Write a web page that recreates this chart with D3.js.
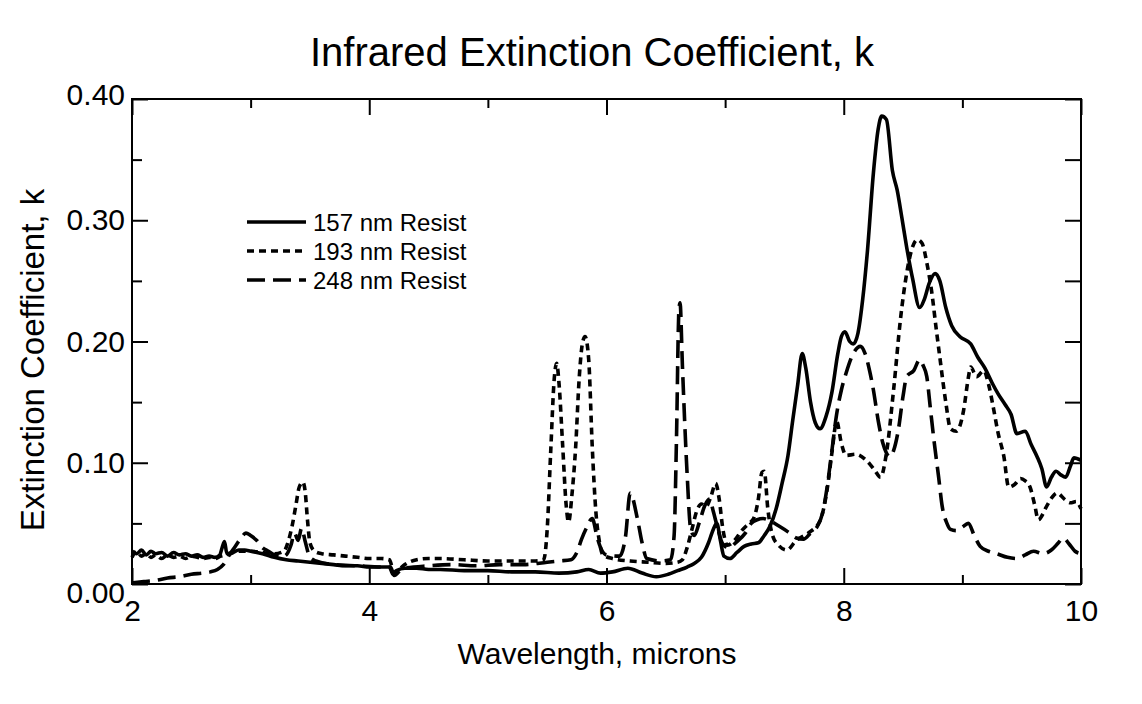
<!DOCTYPE html>
<html>
<head>
<meta charset="utf-8">
<script src="https://cdn.jsdelivr.net/npm/d3@7"></script>
<style>
  body { margin: 0; background: #fff; }
  svg { display: block; font-family: "Liberation Sans", Arial, sans-serif; }
  .tick line { stroke: #000; stroke-width: 2; }
  .tick text { fill: #000; }
</style>
</head>
<body>
<div id="chart"></div>
<script>
// wavelength (microns) and k
const wl157 = [
  2.00,2.04,2.08,2.12,2.16,2.20,2.25,2.30,2.35,2.40,
  2.45,2.50,2.55,2.60,2.65,2.70,2.74,2.76,2.78,2.80,
  2.85,2.90,2.95,3.00,3.10,3.20,3.30,3.40,3.50,3.60,
  3.70,3.80,3.90,4.00,4.10,4.17,4.20,4.23,4.30,4.40,
  4.50,4.60,4.80,5.00,5.20,5.40,5.60,5.75,5.85,5.95,
  6.05,6.18,6.30,6.42,6.52,6.60,6.68,6.74,6.80,6.86,
  6.90,6.93,6.96,6.99,7.04,7.10,7.16,7.22,7.28,7.33,
  7.38,7.43,7.48,7.53,7.57,7.61,7.65,7.68,7.72,7.76,
  7.80,7.85,7.90,7.95,7.98,8.01,8.05,8.08,8.12,8.16,
  8.20,8.25,8.29,8.32,8.36,8.41,8.45,8.49,8.53,8.58,
  8.64,8.68,8.72,8.77,8.81,8.86,8.91,8.98,9.07,9.13,
  9.19,9.25,9.30,9.36,9.41,9.46,9.53,9.58,9.63,9.67,
  9.71,9.75,9.79,9.83,9.87,9.91,9.94,10.00
];
const k157 = [
  0.027,0.025,0.028,0.024,0.027,0.025,0.026,0.023,0.026,0.024,
  0.025,0.023,0.024,0.022,0.023,0.022,0.024,0.030,0.035,0.025,
  0.026,0.028,0.028,0.027,0.025,0.022,0.020,0.019,0.018,0.017,
  0.016,0.015,0.015,0.014,0.014,0.014,0.008,0.011,0.013,0.013,
  0.012,0.012,0.011,0.011,0.010,0.010,0.009,0.010,0.012,0.009,
  0.010,0.013,0.009,0.006,0.008,0.011,0.014,0.017,0.022,0.034,
  0.045,0.050,0.036,0.023,0.021,0.026,0.031,0.033,0.034,0.040,
  0.048,0.062,0.083,0.106,0.135,0.163,0.190,0.178,0.150,0.133,
  0.128,0.138,0.158,0.190,0.204,0.208,0.200,0.198,0.207,0.235,
  0.275,0.339,0.375,0.386,0.383,0.341,0.325,0.302,0.278,0.252,
  0.228,0.235,0.248,0.256,0.250,0.228,0.213,0.204,0.198,0.187,
  0.178,0.166,0.157,0.148,0.140,0.124,0.126,0.115,0.105,0.095,
  0.080,0.088,0.093,0.090,0.088,0.097,0.104,0.102
];

const wl193 = [
  2.00,2.04,2.08,2.12,2.16,2.20,2.25,2.30,2.35,2.40,
  2.45,2.50,2.55,2.60,2.65,2.70,2.75,2.80,2.90,3.00,
  3.10,3.20,3.28,3.32,3.35,3.38,3.41,3.44,3.46,3.48,
  3.50,3.54,3.60,3.70,3.80,3.90,4.00,4.10,4.17,4.21,
  4.25,4.30,4.40,4.50,4.60,4.80,5.00,5.20,5.40,5.47,
  5.50,5.53,5.56,5.58,5.60,5.63,5.66,5.68,5.71,5.74,
  5.77,5.80,5.82,5.85,5.88,5.91,5.94,5.97,6.05,6.20,
  6.35,6.50,6.60,6.64,6.68,6.72,6.76,6.80,6.84,6.88,
  6.92,6.95,6.98,7.02,7.08,7.14,7.20,7.24,7.28,7.31,
  7.33,7.36,7.40,7.45,7.52,7.60,7.70,7.80,7.86,7.90,
  7.94,7.98,8.02,8.10,8.19,8.26,8.31,8.36,8.42,8.48,
  8.53,8.58,8.62,8.66,8.70,8.74,8.78,8.81,8.86,8.90,
  8.95,9.01,9.05,9.07,9.12,9.18,9.22,9.26,9.30,9.35,
  9.39,9.44,9.49,9.53,9.57,9.61,9.64,9.71,9.76,9.80,
  9.86,9.91,9.96,10.00
];
const k193 = [
  0.022,0.027,0.023,0.025,0.022,0.024,0.021,0.024,0.022,0.023,
  0.021,0.023,0.022,0.021,0.022,0.021,0.023,0.024,0.027,0.027,
  0.026,0.025,0.027,0.036,0.048,0.064,0.080,0.084,0.076,0.052,
  0.034,0.027,0.025,0.024,0.023,0.022,0.021,0.021,0.020,0.009,
  0.012,0.016,0.020,0.021,0.021,0.020,0.019,0.019,0.019,0.020,
  0.045,0.110,0.170,0.182,0.165,0.115,0.065,0.051,0.075,0.113,
  0.170,0.200,0.204,0.185,0.113,0.060,0.035,0.024,0.021,0.019,
  0.018,0.017,0.018,0.020,0.030,0.045,0.060,0.066,0.064,0.072,
  0.083,0.070,0.046,0.032,0.036,0.044,0.050,0.054,0.070,0.092,
  0.093,0.062,0.040,0.032,0.028,0.036,0.042,0.052,0.078,0.108,
  0.134,0.116,0.106,0.107,0.102,0.094,0.088,0.108,0.160,0.220,
  0.256,0.278,0.284,0.281,0.265,0.242,0.210,0.187,0.150,0.128,
  0.126,0.143,0.170,0.179,0.171,0.176,0.165,0.146,0.125,0.105,
  0.080,0.082,0.087,0.085,0.080,0.065,0.053,0.064,0.072,0.075,
  0.070,0.067,0.068,0.062
];

const wl248 = [
  2.00,2.10,2.20,2.30,2.40,2.50,2.60,2.66,2.72,2.77,
  2.82,2.87,2.92,2.96,3.00,3.05,3.10,3.15,3.20,3.25,
  3.30,3.34,3.37,3.40,3.43,3.46,3.50,3.55,3.70,3.90,
  4.10,4.18,4.21,4.25,4.30,4.50,4.70,4.90,5.10,5.30,
  5.50,5.60,5.70,5.75,5.79,5.83,5.88,5.92,5.95,6.00,
  6.11,6.16,6.20,6.26,6.30,6.34,6.46,6.54,6.57,6.59,
  6.61,6.62,6.64,6.68,6.71,6.74,6.78,6.83,6.87,6.90,
  6.94,6.98,7.03,7.10,7.17,7.22,7.27,7.32,7.38,7.45,
  7.53,7.60,7.66,7.72,7.78,7.82,7.86,7.90,7.94,7.98,
  8.02,8.08,8.14,8.18,8.22,8.25,8.29,8.33,8.36,8.39,
  8.42,8.46,8.50,8.53,8.59,8.64,8.67,8.70,8.73,8.76,
  8.80,8.83,8.87,8.90,8.95,9.00,9.05,9.10,9.15,9.22,
  9.29,9.38,9.46,9.53,9.60,9.68,9.75,9.81,9.85,9.90,
  9.95,10.00
];
const k248 = [
  0.001,0.002,0.003,0.005,0.006,0.008,0.009,0.010,0.012,0.016,
  0.024,0.031,0.038,0.042,0.040,0.036,0.030,0.027,0.024,0.022,
  0.024,0.032,0.042,0.036,0.046,0.035,0.022,0.019,0.016,0.015,
  0.014,0.014,0.007,0.010,0.013,0.015,0.016,0.015,0.016,0.016,
  0.018,0.019,0.020,0.026,0.037,0.046,0.054,0.039,0.030,0.024,
  0.023,0.039,0.075,0.054,0.034,0.021,0.019,0.020,0.040,0.120,
  0.225,0.232,0.180,0.090,0.045,0.040,0.050,0.065,0.070,0.060,
  0.045,0.033,0.030,0.035,0.042,0.050,0.053,0.054,0.052,0.048,
  0.043,0.038,0.037,0.042,0.048,0.058,0.080,0.110,0.140,0.160,
  0.174,0.190,0.196,0.190,0.175,0.160,0.135,0.116,0.108,0.105,
  0.110,0.127,0.155,0.171,0.176,0.185,0.180,0.171,0.145,0.119,
  0.088,0.064,0.050,0.045,0.044,0.047,0.050,0.040,0.031,0.027,
  0.025,0.022,0.021,0.024,0.027,0.025,0.028,0.034,0.038,0.033,
  0.027,0.025
];

const seriesNames = ["157 nm Resist", "193 nm Resist", "248 nm Resist"];
const xMajor = [2, 4, 6, 8, 10];
const xMinor = [3, 5, 7, 9];
const yMajor = [0, 0.1, 0.2, 0.3, 0.4];
const yMinor = [0.05, 0.15, 0.25, 0.35];

const W = 1142, H = 704;
const margin = { top: 99, right: 61, bottom: 120, left: 132 },
  width = W - margin.left - margin.right,
  height = H - margin.top - margin.bottom;

const x = d3.scaleLinear().domain([2, 10]).range([0, width]);
const y = d3.scaleLinear().domain([0, 0.4]).range([height, 0]);

const root = d3.select("#chart").append("svg")
  .attr("width", W).attr("height", H);
root.append("rect").attr("width", W).attr("height", H).attr("fill", "#fff");

const svg = root.append("g")
  .attr("transform", "translate(" + margin.left + "," + margin.top + ")");

// axes: ticks point inward on all four sides
function addAxis(axis, tx, ty, cls) {
  const g = svg.append("g").attr("class", cls)
    .attr("transform", "translate(" + tx + "," + ty + ")")
    .call(axis);
  g.select(".domain").remove();
  return g;
}

const xb = addAxis(d3.axisBottom(x).tickValues(xMajor).tickSize(-16).tickPadding(16).tickFormat(d3.format("d")), 0, height, "xb");
xb.selectAll("text").attr("font-size", 30);
addAxis(d3.axisBottom(x).tickValues(xMinor).tickSize(-9).tickFormat(""), 0, height, "xbm");
addAxis(d3.axisTop(x).tickValues(xMajor).tickSize(-16).tickFormat(""), 0, 0, "xt");
addAxis(d3.axisTop(x).tickValues(xMinor).tickSize(-9).tickFormat(""), 0, 0, "xtm");

const yl = addAxis(d3.axisLeft(y).tickValues(yMajor).tickSize(-16).tickPadding(7).tickFormat(d3.format(".2f")), 0, 0, "yl");
yl.selectAll("text").attr("font-size", 30)
  .attr("dy", (d) => d === 0 ? "0.6em" : d === 0.4 ? "0.18em" : "0.32em");
addAxis(d3.axisLeft(y).tickValues(yMinor).tickSize(-10).tickFormat(""), 0, 0, "ylm");
addAxis(d3.axisRight(y).tickValues(yMajor.concat(yMinor)).tickSize(-16).tickFormat(""), width, 0, "yr");

svg.append("rect")
  .attr("width", width).attr("height", height)
  .attr("fill", "none").attr("stroke", "#000").attr("stroke-width", 2);

// curves
const dashes = ["none", "7,5", "18,8"];
const series = [
  wl157.map((w, i) => [w, k157[i]]),
  wl193.map((w, i) => [w, k193[i]]),
  wl248.map((w, i) => [w, k248[i]]),
];

const line = d3.line()
  .x((d) => x(d[0]))
  .y((d) => y(d[1]))
  .curve(d3.curveMonotoneX);

series.forEach((s, i) => {
  svg.append("path")
    .datum(s)
    .attr("d", line)
    .attr("fill", "none")
    .attr("stroke", "#000")
    .attr("stroke-width", 3.6)
    .attr("stroke-linejoin", "round")
    .attr("stroke-dasharray", dashes[i]);
});

// legend
const legend = root.append("g").attr("transform", "translate(247,222)");
seriesNames.forEach((name, i) => {
  legend.append("line")
    .attr("x1", 0).attr("x2", 59)
    .attr("y1", i * 29).attr("y2", i * 29)
    .attr("stroke", "#000").attr("stroke-width", 3.6)
    .attr("stroke-dasharray", dashes[i]);
  legend.append("text")
    .attr("x", 66).attr("y", i * 29).attr("dy", "0.36em")
    .attr("font-size", 24)
    .text(name);
});

// titles
root.append("text")
  .attr("x", 592).attr("y", 66)
  .attr("text-anchor", "middle").attr("font-size", 40)
  .text("Infrared Extinction Coefficient, k");

root.append("text")
  .attr("x", 597).attr("y", 664)
  .attr("text-anchor", "middle").attr("font-size", 30)
  .text("Wavelength, microns");

root.append("text")
  .attr("transform", "translate(44,360) rotate(-90)")
  .attr("text-anchor", "middle").attr("font-size", 33)
  .text("Extinction Coefficient, k");
</script>
</body>
</html>
